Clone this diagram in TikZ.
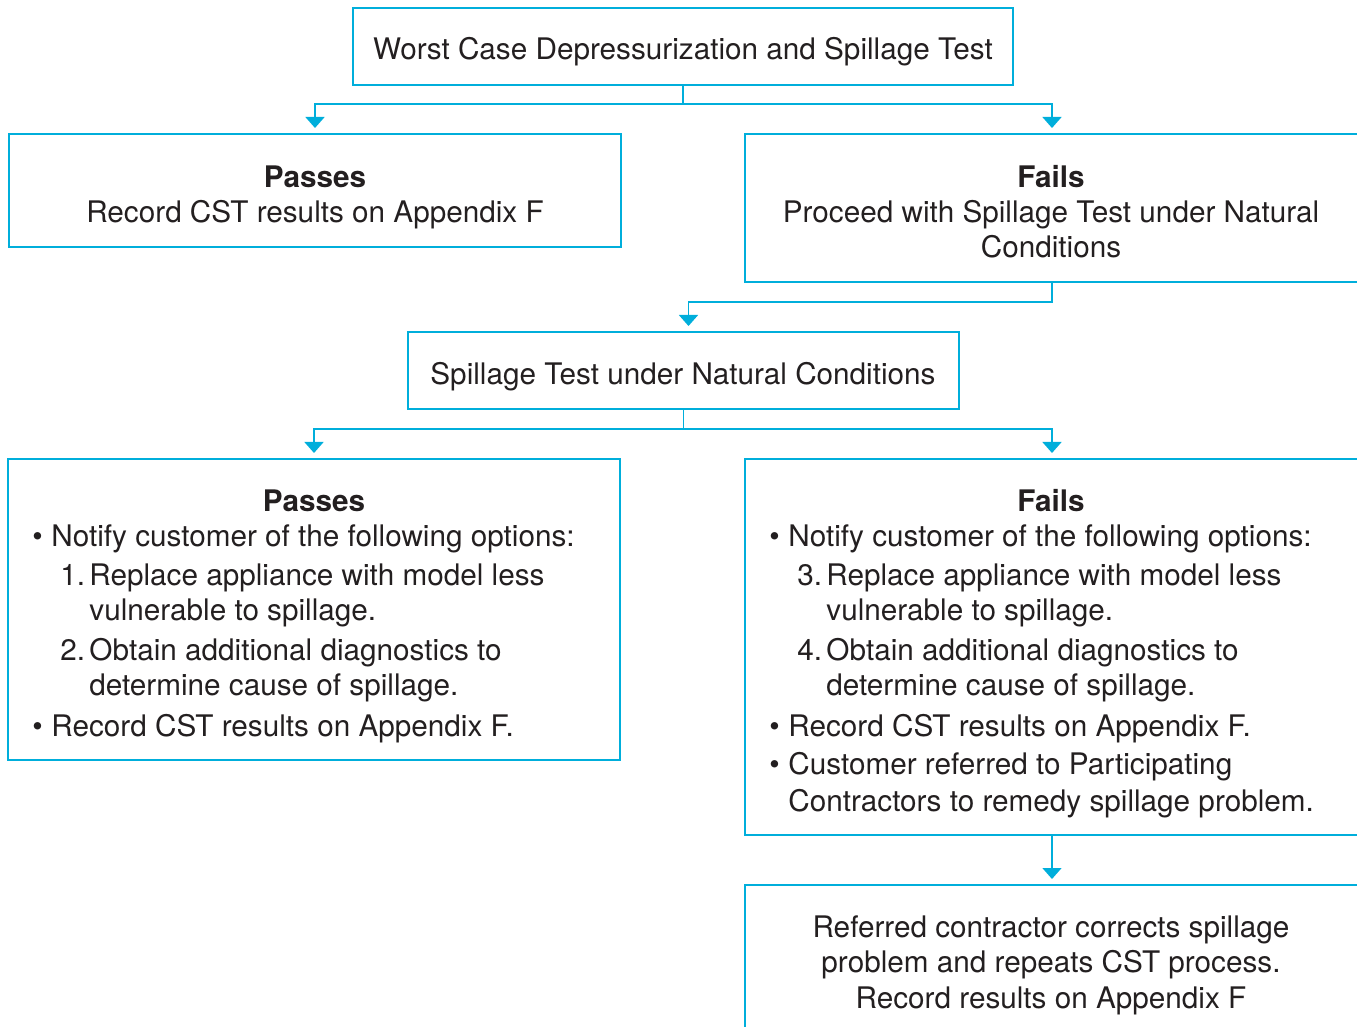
\documentclass[tikz,border=0pt]{standalone}
\usepackage{fontspec}
\setmainfont{TeX Gyre Heros}
\usetikzlibrary{arrows.meta}
\definecolor{cyanline}{RGB}{0,174,219}
\definecolor{txt}{RGB}{35,31,32}
\begin{document}
\begin{tikzpicture}[x=0.5pt,y=-0.5pt,
  box/.style={draw=cyanline, line width=0.8pt, inner sep=0pt, outer sep=0pt, anchor=north west},
  conn/.style={draw=cyanline, line width=0.8pt, -{Triangle[width=9.5pt,length=5.5pt]}, shorten >=3pt},
  lbl/.style={text=txt, font=\fontsize{14.85}{17.5}\selectfont, inner sep=0pt},
  ctr/.style={lbl, anchor=base},
  lft/.style={lbl, anchor=base west},
]
\useasboundingbox (0,0) rectangle (1357,1027);

% boxes
\node[box, minimum width=330pt, minimum height=38.5pt] (top) at (353,8) {};
\node[box, minimum width=306pt, minimum height=56.5pt] (passA) at (9,134) {};
\node[box, minimum width=307pt, minimum height=74pt] (failA) at (745,134) {};
\node[box, minimum width=275.5pt, minimum height=38.5pt] (spill) at (408,332) {};
\node[box, minimum width=306pt, minimum height=150.5pt] (passB) at (8,459) {};
\node[box, minimum width=307pt, minimum height=188pt] (failB) at (745,459) {};
\node[box, minimum width=307pt, minimum height=80pt] (final) at (745,885) {};

% connectors
\path (top.south) ++(0,19) coordinate (j1);
\path (failA.south) ++(0,20) coordinate (j2);
\path (spill.south) ++(0,20) coordinate (j3);
\draw[conn] (top.south) -- (j1) -| (passA.north);
\draw[conn] (top.south) -- (j1) -| (failA.north);
\draw[conn] (failA.south) -- (j2) -| ([xshift=2.5pt]spill.north);
\draw[conn] (spill.south) -- (j3) -| (passB.north);
\draw[conn] (spill.south) -- (j3) -| (failB.north);
\draw[conn] (failB.south) -- (final.north);

% texts
\node[ctr] (t0) at (683,60) {Worst Case Depressurization and Spillage Test};

\node[ctr] (pa1) at (315,188) {\bfseries Passes};
\node[ctr] (pa2) at (315,223) {Record CST results on Appendix F};

\node[ctr] (fa1) at (1051,188) {\bfseries Fails};
\node[ctr] (fa2) at (1051,223) {Proceed with Spillage Test under Natural};
\node[ctr] (fa3) at (1051,258) {Conditions};

\node[ctr] (s1) at (683,385) {Spillage Test under Natural Conditions};

\node[ctr] (pb0) at (314,512) {\bfseries Passes};
\node[lft] (pbb1) at (32,547) {•};
\node[lft] (pb1) at (51,547) {Notify customer of the following options:};
\node[lft] (pbn1) at (60,586) {1.};
\node[lft] (pb2) at (89,586) {Replace appliance with model less};
\node[lft] (pb3) at (89,621) {vulnerable to spillage.};
\node[lft] (pbn2) at (60,661) {2.};
\node[lft] (pb4) at (89,661) {Obtain additional diagnostics to};
\node[lft] (pb5) at (89,696) {determine cause of spillage.};
\node[lft] (pbb2) at (32,736) {•};
\node[lft] (pb6) at (51,736) {Record CST results on Appendix F.};

\node[ctr] (fb0) at (1051,512) {\bfseries Fails};
\node[lft] (fbb1) at (769,547) {•};
\node[lft] (fb1) at (788,547) {Notify customer of the following options:};
\node[lft] (fbn1) at (797,586) {3.};
\node[lft] (fb2) at (826,586) {Replace appliance with model less};
\node[lft] (fb3) at (826,621) {vulnerable to spillage.};
\node[lft] (fbn2) at (797,661) {4.};
\node[lft] (fb4) at (826,661) {Obtain additional diagnostics to};
\node[lft] (fb5) at (826,696) {determine cause of spillage.};
\node[lft] (fbb2) at (769,736) {•};
\node[lft] (fb6) at (788,736) {Record CST results on Appendix F.};
\node[lft] (fbb3) at (769,775) {•};
\node[lft] (fb7) at (788,775) {Customer referred to Participating};
\node[lft] (fb8) at (788,811) {Contractors to remedy spillage problem.};

\node[ctr] (c1) at (1051,937) {Referred contractor corrects spillage};
\node[ctr] (c2) at (1051,972) {problem and repeats CST process.};
\node[ctr] (c3) at (1051,1008) {Record results on Appendix F};
\end{tikzpicture}
\end{document}
